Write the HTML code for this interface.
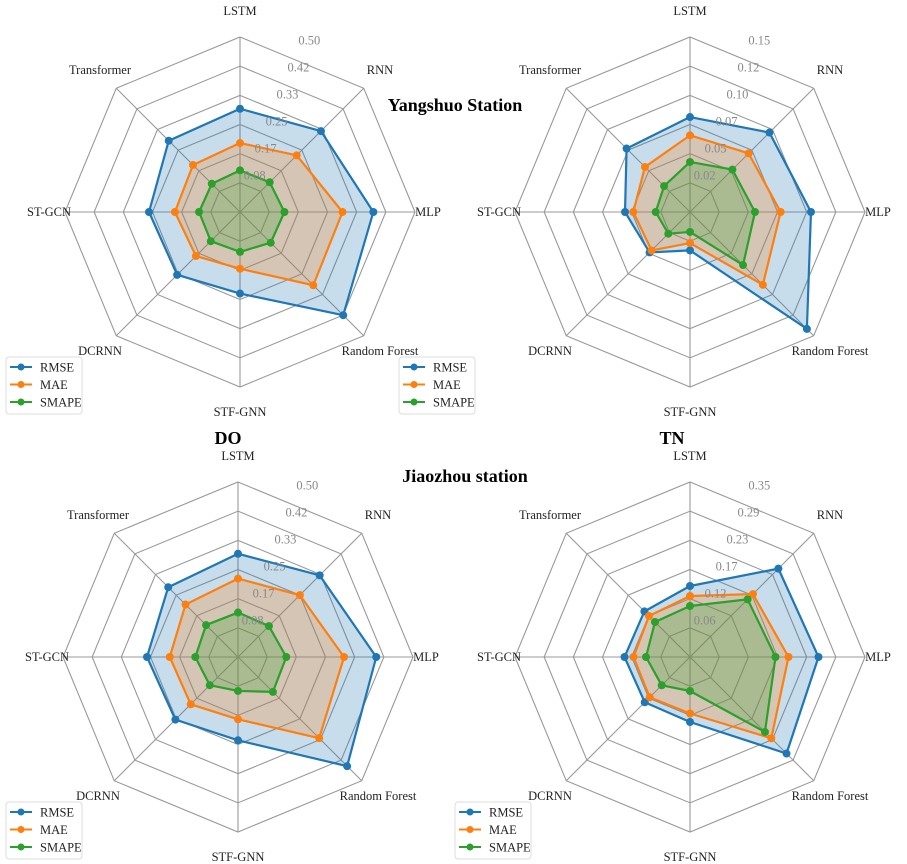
<!DOCTYPE html>
<html><head><meta charset="utf-8"><style>
body{margin:0;background:#fff;}
svg{display:block;font-family:"Liberation Serif",serif;}
</style></head><body>
<svg id="chart" width="907" height="864" viewBox="0 0 907 864" xmlns="http://www.w3.org/2000/svg">
<text x="455" y="111" font-size="18" font-weight="bold" text-anchor="middle">Yangshuo Station</text>
<text x="228" y="444" font-size="18" font-weight="bold" text-anchor="middle">DO</text>
<text x="672" y="444" font-size="18" font-weight="bold" text-anchor="middle">TN</text>
<text x="465" y="482" font-size="18" font-weight="bold" text-anchor="middle">Jiaozhou station</text>
</svg>
<script>
const categories = ["LSTM","RNN","MLP","Random Forest","STF-GNN","DCRNN","ST-GCN","Transformer"];
const seriesNames = ["RMSE","MAE","SMAPE"];
const colors = ["#1f77b4","#ff7f0e","#2ca02c"];
// Yangshuo DO
const ysDoRMSE = [0.295,0.327,0.381,0.417,0.233,0.254,0.26,0.288];
const ysDoMAE = [0.197,0.229,0.293,0.296,0.162,0.178,0.186,0.19];
const ysDoSMAPE = [0.119,0.12,0.127,0.124,0.114,0.118,0.117,0.114];
const ysDoTicks = ["0.08","0.17","0.25","0.33","0.42","0.50"];
// Yangshuo TN
const ysTnRMSE = [0.0814,0.0963,0.1037,0.1417,0.0329,0.049,0.0557,0.0769];
const ysTnMAE = [0.0657,0.0711,0.0777,0.0883,0.0266,0.0466,0.0486,0.0546];
const ysTnSMAPE = [0.0429,0.0514,0.0557,0.0643,0.0171,0.0263,0.0294,0.0314];
const ysTnTicks = ["0.02","0.05","0.07","0.10","0.12","0.15"];
// Jiaozhou DO
const jzDoRMSE = [0.295,0.33,0.395,0.441,0.238,0.253,0.26,0.282];
const jzDoMAE = [0.224,0.25,0.303,0.328,0.178,0.191,0.195,0.212];
const jzDoSMAPE = [0.127,0.125,0.138,0.141,0.097,0.114,0.122,0.129];
const jzDoTicks = ["0.08","0.17","0.25","0.33","0.42","0.50"];
// Jiaozhou TN
const jzTnRMSE = [0.142,0.25,0.257,0.273,0.13,0.128,0.131,0.129];
const jzTnMAE = [0.122,0.178,0.197,0.23,0.113,0.114,0.113,0.116];
const jzTnSMAPE = [0.102,0.163,0.171,0.212,0.068,0.08,0.088,0.099];
const jzTnTicks = ["0.06","0.12","0.17","0.23","0.29","0.35"];

const NS="http://www.w3.org/2000/svg";
const svg=document.getElementById('chart');
function mk(tag,attrs,parent){const e=document.createElementNS(NS,tag);for(const k in attrs)e.setAttribute(k,attrs[k]);(parent||svg).appendChild(e);return e;}

function radar(id,cx,cy,max,ticks,series,legendX,legendY){
  const R=175;
  const g=mk('g',{});
  
  
  const n=categories.length;
  const ang=i=>-Math.PI/2+i*2*Math.PI/n;
  const rScale=v=>v/max*R;
  const pt=(i,r)=>[cx+r*Math.cos(ang(i)),cy+r*Math.sin(ang(i))];
  for(let k=1;k<=ticks.length;k++){
    const r=R*k/ticks.length;
    const pts=categories.map((c,i)=>pt(i,r).join(',')).join(' ');
    const ring=mk('polygon',{points:pts,fill:'none',stroke:'#999','stroke-width':1.1},g);
    
    
  }
  categories.forEach((c,i)=>{
    const p=pt(i,R);
    const sp=mk('line',{x1:cx,y1:cy,x2:p[0],y2:p[1],stroke:'#999','stroke-width':1.1},g);
    
    
  });
  series.forEach((vals,s)=>{
    const pts=vals.map((v,i)=>pt(i,rScale(v)).join(',')).join(' ');
    const poly=mk('polygon',{points:pts,fill:colors[s],'fill-opacity':0.25,stroke:colors[s],'stroke-width':2.2,'stroke-linejoin':'round'},g);
    
    
    vals.forEach((v,i)=>{
      const p=pt(i,rScale(v));
      const d=mk('circle',{cx:p[0],cy:p[1],r:4,fill:colors[s]},g);
      
      
    });
  });
  ticks.forEach((t,k)=>{
    const r=R*(k+1)/ticks.length+10;
    const a=-Math.PI/2+22*Math.PI/180;
    const tx=mk('text',{x:cx+r*Math.cos(a),y:cy+r*Math.sin(a)+4,'font-size':12.5,fill:'#888','text-anchor':'middle'},g);
    tx.textContent=t;
    
    
  });
  const lp=[[0,-197],[140,-138],[188,4],[140,143],[0,204],[-140,143],[-191,4],[-140,-138]];
  categories.forEach((c,i)=>{
    const tx=mk('text',{x:cx+lp[i][0],y:cy+lp[i][1],'font-size':12.5,fill:'#222','text-anchor':'middle'},g);
    tx.textContent=c;
    
    
  });
  const lg=mk('g',{},g);
  
  
  mk('rect',{x:legendX,y:legendY,width:76,height:57,rx:3,fill:'#fff','fill-opacity':0.85,stroke:'#ddd'},lg);
  seriesNames.forEach((nm,s)=>{
    const y=legendY+10+s*17.5;
    mk('line',{x1:legendX+4,y1:y,x2:legendX+26,y2:y,stroke:colors[s],'stroke-width':2},lg);
    mk('circle',{cx:legendX+15,cy:y,r:3.5,fill:colors[s]},lg);
    const tx=mk('text',{x:legendX+34,y:y+4.5,'font-size':12.5,fill:'#222'},lg);
    tx.textContent=nm;
    
    
  });
}
radar('yangshuo-do',240,212,0.5,ysDoTicks,[ysDoRMSE,ysDoMAE,ysDoSMAPE],6,357);
radar('yangshuo-tn',690,212,0.15,ysTnTicks,[ysTnRMSE,ysTnMAE,ysTnSMAPE],399,357);
radar('jiaozhou-do',238,657,0.5,jzDoTicks,[jzDoRMSE,jzDoMAE,jzDoSMAPE],6,802);
radar('jiaozhou-tn',690,657,0.35,jzTnTicks,[jzTnRMSE,jzTnMAE,jzTnSMAPE],455,802);
</script>
</body></html>
